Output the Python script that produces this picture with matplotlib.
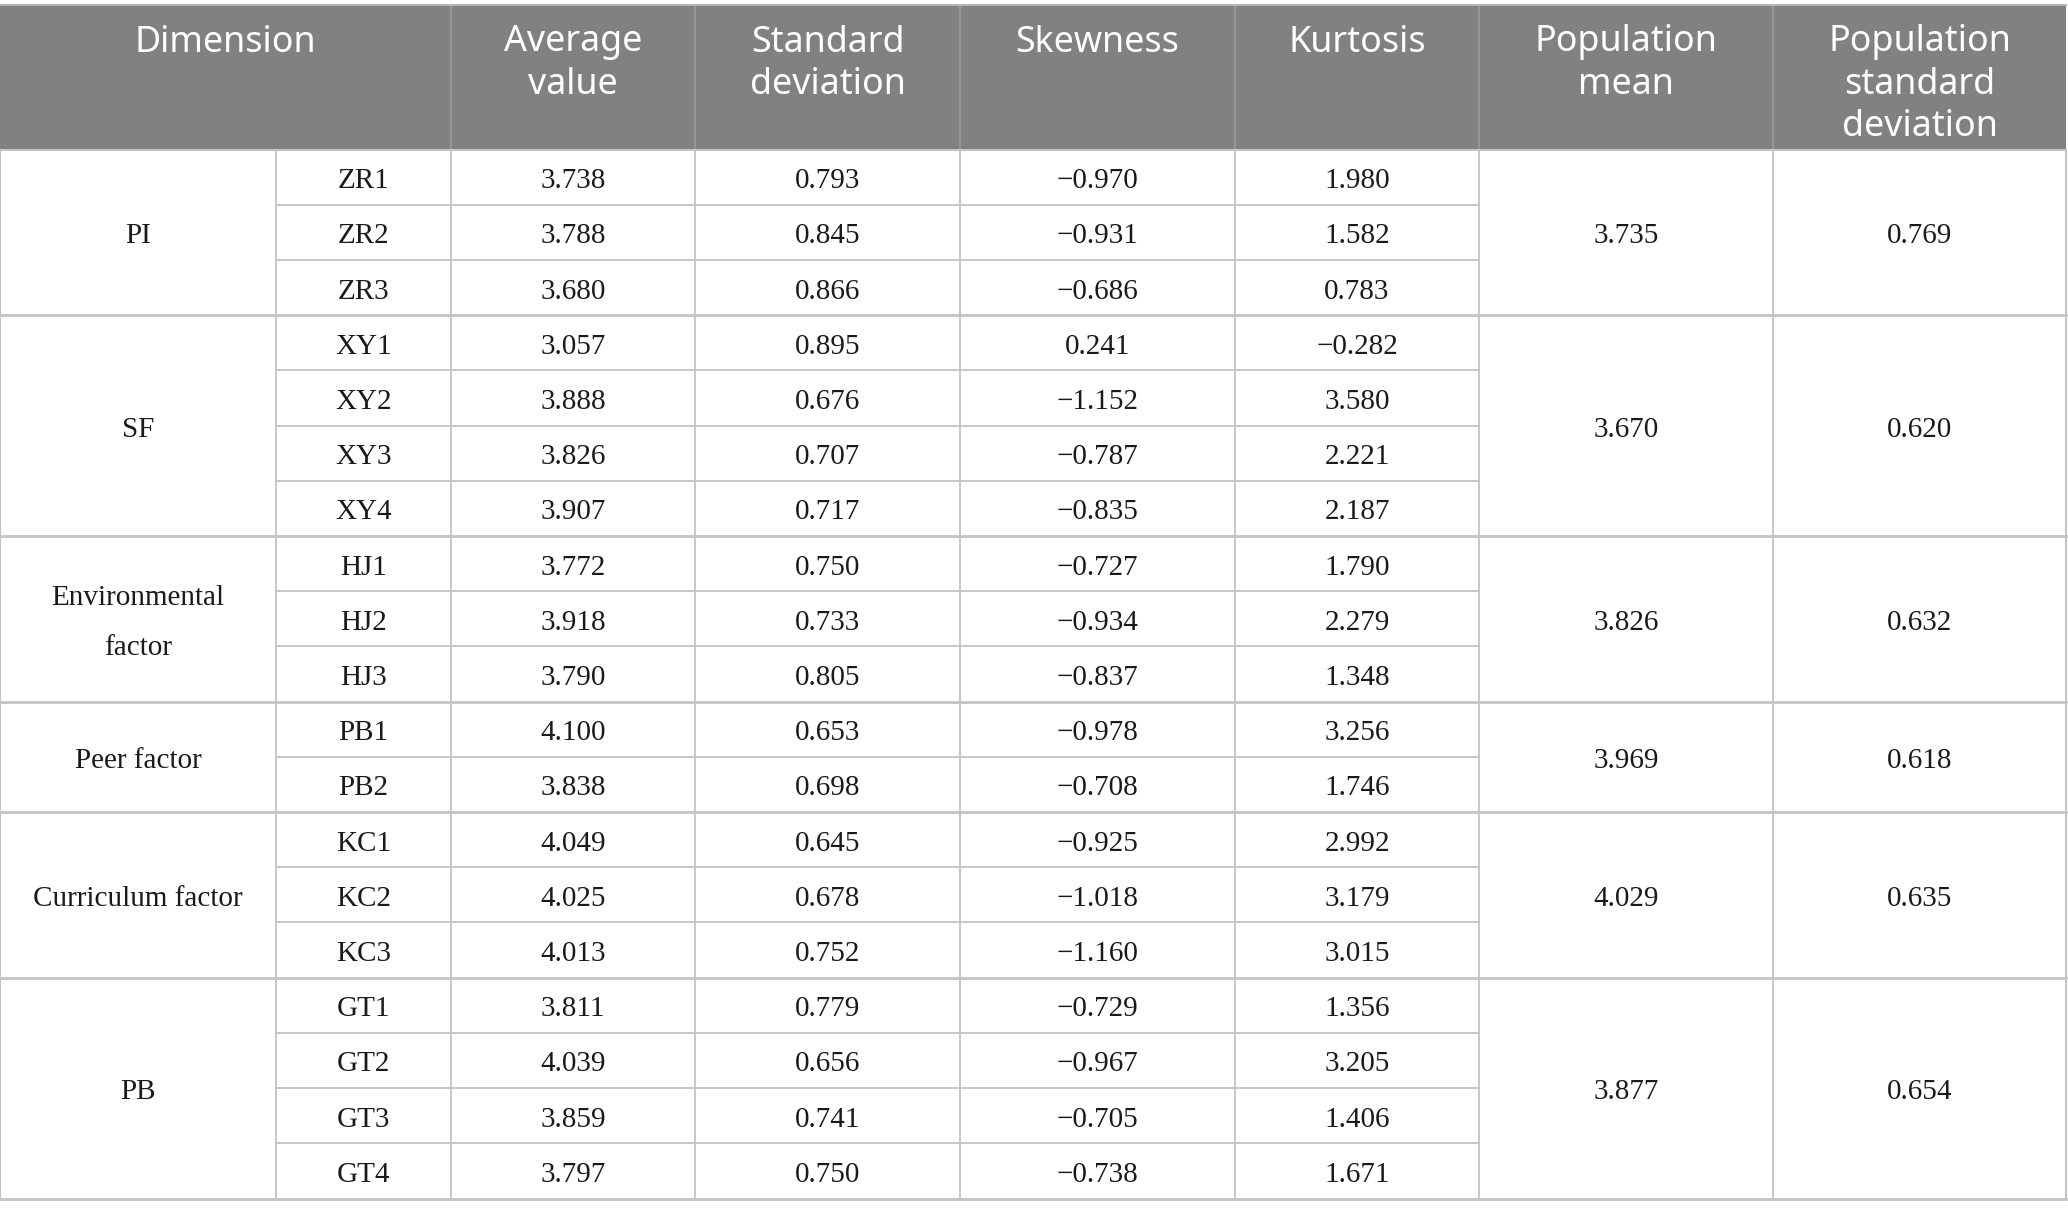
import matplotlib
matplotlib.use("Agg")
import matplotlib.pyplot as plt
from matplotlib.patches import Rectangle

# ---------------- data ----------------
headers = ["Dimension", "Average\nvalue", "Standard\ndeviation", "Skewness",
           "Kurtosis", "Population\nmean", "Population\nstandard\ndeviation"]
groups = ["PI", "SF", "Environmental\nfactor", "Peer factor",
          "Curriculum factor", "PB"]
group_sizes = [3, 4, 3, 2, 3, 4]
items = ["ZR1", "ZR2", "ZR3", "XY1", "XY2", "XY3", "XY4", "HJ1", "HJ2", "HJ3",
         "PB1", "PB2", "KC1", "KC2", "KC3", "GT1", "GT2", "GT3", "GT4"]
average = ["3.738", "3.788", "3.680", "3.057", "3.888", "3.826", "3.907",
           "3.772", "3.918", "3.790", "4.100", "3.838", "4.049", "4.025",
           "4.013", "3.811", "4.039", "3.859", "3.797"]
std_dev = ["0.793", "0.845", "0.866", "0.895", "0.676", "0.707", "0.717",
           "0.750", "0.733", "0.805", "0.653", "0.698", "0.645", "0.678",
           "0.752", "0.779", "0.656", "0.741", "0.750"]
skewness = ["\u22120.970", "\u22120.931", "\u22120.686", "0.241", "\u22121.152",
            "\u22120.787", "\u22120.835", "\u22120.727", "\u22120.934", "\u22120.837",
            "\u22120.978", "\u22120.708", "\u22120.925", "\u22121.018", "\u22121.160",
            "\u22120.729", "\u22120.967", "\u22120.705", "\u22120.738"]
kurtosis = ["1.980", "1.582", "0.783", "\u22120.282", "3.580", "2.221", "2.187",
            "1.790", "2.279", "1.348", "3.256", "1.746", "2.992", "3.179",
            "3.015", "1.356", "3.205", "1.406", "1.671"]
pop_mean = ["3.735", "3.670", "3.826", "3.969", "4.029", "3.877"]
pop_sd = ["0.769", "0.620", "0.632", "0.618", "0.635", "0.654"]

# ---------------- layout ----------------
W, H = 2068, 1217
col_edges = [0, 276, 451, 695, 960, 1235, 1479, 1773, 2066]
top = 5
header_bottom = 149.5
table_bottom = 1198.5
n_rows = len(items)
row_h = (table_bottom - header_bottom) / n_rows

header_bg = "#808180"
line_col = "#c3c3c3"
text_col = "#1a1a1a"
serif = ["Liberation Serif", "DejaVu Serif"]
sans = ["Noto Sans", "DejaVu Sans"]
body_fs = 21
head_fs = 25.8
head_line = 42
head_first = 38

fig = plt.figure(figsize=(W / 100, H / 100), dpi=100)
ax = fig.add_axes([0, 0, 1, 1])
ax.set_xlim(0, W)
ax.set_ylim(H, 0)
ax.axis("off")

# header background
ax.add_patch(Rectangle((col_edges[0], top), col_edges[-1] - col_edges[0],
                       header_bottom - top, facecolor=header_bg,
                       edgecolor="none", zorder=1))
# header vertical separators (Dimension spans first two columns)
for x in col_edges[2:-1]:
    ax.plot([x, x], [top, header_bottom], color="#9a9a9a", lw=1.2, zorder=2)
ax.plot([col_edges[0], col_edges[-1]], [top, top], color="#b5b5b5", lw=1.5, zorder=2)

# header text
head_cols = [(col_edges[0], col_edges[2])] + [(col_edges[i], col_edges[i + 1])
                                               for i in range(2, 8)]
for (x0, x1), label in zip(head_cols, headers):
    for k, line in enumerate(label.split("\n")):
        ax.text((x0 + x1) / 2, head_first + k * head_line, line, color="white",
                fontsize=head_fs, family=sans, fontweight="light",
                ha="center", va="center_baseline", zorder=3)

def cx(i):
    return (col_edges[i] + col_edges[i + 1]) / 2

# body rows
for r in range(n_rows):
    yc = header_bottom + (r + 0.5) * row_h
    for ci, vals in zip([1, 2, 3, 4, 5], [items, average, std_dev, skewness, kurtosis]):
        ax.text(cx(ci), yc + 1, vals[r], color=text_col, fontsize=body_fs,
                family=serif, ha="center", va="center_baseline", zorder=3)

# horizontal lines inside groups (columns 1..5)
start = 0
for g, size in enumerate(group_sizes):
    for k in range(1, size):
        y = header_bottom + (start + k) * row_h
        ax.plot([col_edges[1], col_edges[6]], [y, y], color=line_col, lw=1.3, zorder=2)
    # group separator line across all columns
    y_end = header_bottom + (start + size) * row_h
    ax.plot([col_edges[0], col_edges[-1]], [y_end, y_end], color=line_col,
            lw=2.0, zorder=2)
    yc = header_bottom + (start + size / 2) * row_h
    lines = groups[g].split("\n")
    for k, line in enumerate(lines):
        off = (k - (len(lines) - 1) / 2) * 50
        ax.text(cx(0), yc + off + 1, line, color=text_col, fontsize=body_fs,
                family=serif, ha="center", va="center_baseline", zorder=3)
    ax.text(cx(6), yc + 1, pop_mean[g], color=text_col, fontsize=body_fs,
            family=serif, ha="center", va="center_baseline", zorder=3)
    ax.text(cx(7), yc + 1, pop_sd[g], color=text_col, fontsize=body_fs,
            family=serif, ha="center", va="center_baseline", zorder=3)
    start += size

# vertical lines in body
for x in col_edges:
    ax.plot([x, x], [header_bottom, table_bottom], color=line_col,
            lw=1.5 if x in (col_edges[0], col_edges[-1]) else 1.3, zorder=2)
ax.plot([col_edges[0], col_edges[-1]], [header_bottom, header_bottom],
        color=line_col, lw=1.5, zorder=2)

fig.savefig("out.png", dpi=100, facecolor="white")
